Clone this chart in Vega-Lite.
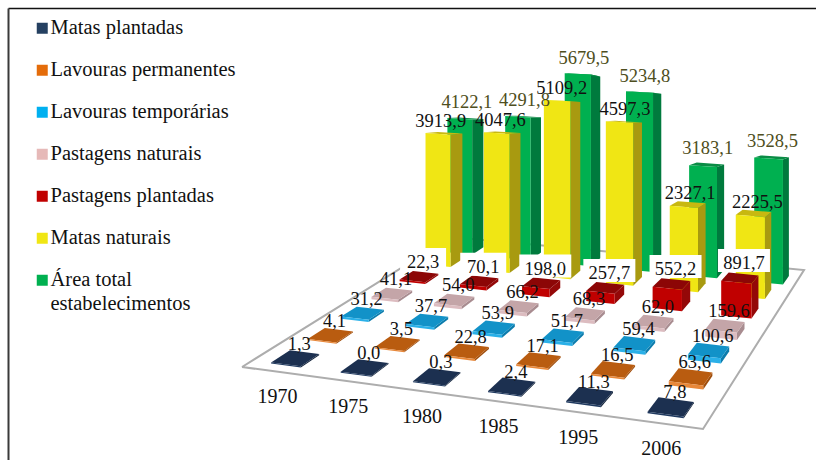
{
  "$schema": "https://vega.github.io/schema/vega-lite/v6.json",
  "width": 808,
  "height": 452,
  "autosize": "none",
  "padding": {"left": 8, "top": 8, "right": 0, "bottom": 0},
  "background": "white",
  "view": {"stroke": null, "fill": "white"},
  "datasets": {
    "areas": [
      {"ano": "1970", "uso": "Área total estabelecimentos", "area": 4122.1},
      {"ano": "1975", "uso": "Área total estabelecimentos", "area": 4291.8},
      {"ano": "1980", "uso": "Área total estabelecimentos", "area": 5679.5},
      {"ano": "1985", "uso": "Área total estabelecimentos", "area": 5234.8},
      {"ano": "1995", "uso": "Área total estabelecimentos", "area": 3183.1},
      {"ano": "2006", "uso": "Área total estabelecimentos", "area": 3528.5},
      {"ano": "1970", "uso": "Matas naturais", "area": 3913.9},
      {"ano": "1975", "uso": "Matas naturais", "area": 4047.6},
      {"ano": "1980", "uso": "Matas naturais", "area": 5109.2},
      {"ano": "1985", "uso": "Matas naturais", "area": 4597.3},
      {"ano": "1995", "uso": "Matas naturais", "area": 2327.1},
      {"ano": "2006", "uso": "Matas naturais", "area": 2225.5},
      {"ano": "1970", "uso": "Pastagens plantadas", "area": 22.3},
      {"ano": "1975", "uso": "Pastagens plantadas", "area": 70.1},
      {"ano": "1980", "uso": "Pastagens plantadas", "area": 198.0},
      {"ano": "1985", "uso": "Pastagens plantadas", "area": 257.7},
      {"ano": "1995", "uso": "Pastagens plantadas", "area": 552.2},
      {"ano": "2006", "uso": "Pastagens plantadas", "area": 891.7},
      {"ano": "1970", "uso": "Pastagens naturais", "area": 41.1},
      {"ano": "1975", "uso": "Pastagens naturais", "area": 54.0},
      {"ano": "1980", "uso": "Pastagens naturais", "area": 66.2},
      {"ano": "1985", "uso": "Pastagens naturais", "area": 68.3},
      {"ano": "1995", "uso": "Pastagens naturais", "area": 62.0},
      {"ano": "2006", "uso": "Pastagens naturais", "area": 159.6},
      {"ano": "1970", "uso": "Lavouras temporárias", "area": 31.2},
      {"ano": "1975", "uso": "Lavouras temporárias", "area": 37.7},
      {"ano": "1980", "uso": "Lavouras temporárias", "area": 53.9},
      {"ano": "1985", "uso": "Lavouras temporárias", "area": 51.7},
      {"ano": "1995", "uso": "Lavouras temporárias", "area": 59.4},
      {"ano": "2006", "uso": "Lavouras temporárias", "area": 100.6},
      {"ano": "1970", "uso": "Lavouras permanentes", "area": 4.1},
      {"ano": "1975", "uso": "Lavouras permanentes", "area": 3.5},
      {"ano": "1980", "uso": "Lavouras permanentes", "area": 22.8},
      {"ano": "1985", "uso": "Lavouras permanentes", "area": 17.1},
      {"ano": "1995", "uso": "Lavouras permanentes", "area": 16.5},
      {"ano": "2006", "uso": "Lavouras permanentes", "area": 63.6},
      {"ano": "1970", "uso": "Matas plantadas", "area": 1.3},
      {"ano": "1975", "uso": "Matas plantadas", "area": 0.0},
      {"ano": "1980", "uso": "Matas plantadas", "area": 0.3},
      {"ano": "1985", "uso": "Matas plantadas", "area": 2.4},
      {"ano": "1995", "uso": "Matas plantadas", "area": 11.3},
      {"ano": "2006", "uso": "Matas plantadas", "area": 7.8}
    ],
    "piso": [
      {"canto": 0, "u": 0, "v": 0},
      {"canto": 1, "u": 1, "v": 0},
      {"canto": 2, "u": 1, "v": 1},
      {"canto": 3, "u": 0, "v": 1},
      {"canto": 4, "u": 0, "v": 0}
    ],
    "anos": [
      {"ano": "1970"}, {"ano": "1975"}, {"ano": "1980"},
      {"ano": "1985"}, {"ano": "1995"}, {"ano": "2006"}
    ]
  },
  "encoding": {
    "x": {"field": "X", "type": "quantitative", "axis": {"orient": "top", "title": null, "labels": false, "ticks": false, "grid": false, "domainColor": "#111111", "domainWidth": 1.6}, "scale": {"domain": [8, 816], "nice": false, "zero": false}},
    "y": {"field": "Y", "type": "quantitative", "axis": {"orient": "left", "title": null, "labels": false, "ticks": false, "grid": false, "domainColor": "#3a3a3a", "domainWidth": 2}, "scale": {"domain": [460, 8], "nice": false, "zero": false}}
  },
  "layer": [
    {
      "data": {"name": "piso"},
      "transform": [
        {"calculate": "-0.11222*datum.u+0.33806*datum.v+1", "as": "w"},
        {"calculate": "(382.1*datum.u+361.5*datum.v+242)/datum.w", "as": "X"},
        {"calculate": "(13.86*datum.u-49.9*datum.v+367)/datum.w", "as": "Y"}
      ],
      "mark": {"type": "line", "fill": "white", "stroke": "#adadad", "strokeWidth": 2},
      "encoding": {"order": {"field": "canto", "type": "ordinal"}}
    },
    {
      "data": {"name": "areas"},
      "transform": [
        {"calculate": "indexof(['1970','1975','1980','1985','1995','2006'],datum.ano)", "as": "j"},
        {"calculate": "indexof(['Matas plantadas','Lavouras permanentes','Lavouras temporárias','Pastagens naturais','Pastagens plantadas','Matas naturais','Área total estabelecimentos'],datum.uso)", "as": "i"},
        {"calculate": "[0,1,2]", "as": "face"},
        {"flatten": ["face"]},
        {"calculate": "[0,1,2,3]", "as": "corner"},
        {"flatten": ["corner"]},
        {"calculate": "[[1,1,1,1],[0,1,1,0],[0,1,1,0]][datum.face][datum.corner]", "as": "cu"},
        {"calculate": "[[0,1,1,0],[0,0,1,1],[0,0,0,0]][datum.face][datum.corner]", "as": "cv"},
        {"calculate": "[[0,0,1,1],[1,1,1,1],[0,0,1,1]][datum.face][datum.corner]", "as": "cz"},
        {"calculate": "(datum.j+0.5)/6+(datum.cu-0.5)*0.072", "as": "U"},
        {"calculate": "(datum.i+0.5)/7+(datum.cv-0.5)*0.072-(datum.i == 6 ? 0.03 : 0)", "as": "V"},
        {"calculate": "datum.cz*(datum.area+25)", "as": "Z"},
        {"calculate": "-0.11222*datum.U+0.33806*datum.V+1", "as": "w"},
        {"calculate": "(382.1*datum.U+361.5*datum.V+242)/datum.w+(datum.i == 6 ? 2.5+6*datum.U : 0)", "as": "X"},
        {"calculate": "(13.86*datum.U-49.9*datum.V+367-0.0417*datum.Z)/datum.w+datum.cv*0.0011*datum.Z", "as": "Y"},
        {"calculate": "(6-datum.i)*10000+datum.j*100+datum.face*10+datum.corner", "as": "ordem"},
        {"calculate": "datum.i+'-'+datum.face", "as": "tom"},
        {"calculate": "datum.i+'-'+datum.j+'-'+datum.face", "as": "poligono"}
      ],
      "mark": {"type": "line", "strokeWidth": 0},
      "encoding": {
        "order": {"field": "ordem", "type": "quantitative"},
        "detail": {"field": "poligono"},
        "fill": {
          "field": "tom",
          "type": "nominal",
          "legend": null,
          "scale": {
            "domain": ["0-0","0-1","0-2","1-0","1-1","1-2","2-0","2-1","2-2","3-0","3-1","3-2","4-0","4-1","4-2","5-0","5-1","5-2","6-0","6-1","6-2"],
            "range": ["#14243c","#1c3050","#203a60","#a04e0c","#b95c10","#e8883a","#0c7cac","#1292c8","#2ab0e8","#a88c90","#c4a5a8","#dcbcc0","#940808","#8c0606","#c00000","#a89a10","#c8b810","#f0e614","#007a3d","#0a8c45","#00b050"]
          }
        }
      }
    },
    {
      "data": {"name": "areas"},
      "transform": [
        {"filter": "datum.uso == 'Pastagens plantadas'"},
        {"calculate": "indexof(['1970','1975','1980','1985','1995','2006'],datum.ano)", "as": "j"},
        {"calculate": "(datum.j+0.5)/6", "as": "U"},
        {"calculate": "4.5/7", "as": "V"},
        {"calculate": "-0.11222*datum.U+0.33806*datum.V+1", "as": "w"},
        {"calculate": "(382.1*datum.U+361.5*datum.V+242)/datum.w+4", "as": "cx"},
        {"calculate": "(13.86*datum.U-49.9*datum.V+367-0.0417*(datum.area+25))/datum.w-14.5", "as": "cy"},
        {"calculate": "replace(format(datum.area,'.1f'),'.',',')", "as": "rotulo"},
        {"calculate": "datum.cx-(11+3*length(datum.rotulo))", "as": "X"},
        {"calculate": "datum.cx+(11+3*length(datum.rotulo))", "as": "X2"},
        {"calculate": "datum.cy-14", "as": "Y"},
        {"calculate": "datum.cy+9", "as": "Y2"}
      ],
      "mark": {"type": "rect", "fill": "white"},
      "encoding": {
        "x2": {"field": "X2"},
        "y2": {"field": "Y2"}
      }
    },
    {
      "data": {"name": "areas"},
      "transform": [
        {"calculate": "indexof(['1970','1975','1980','1985','1995','2006'],datum.ano)", "as": "j"},
        {"calculate": "indexof(['Matas plantadas','Lavouras permanentes','Lavouras temporárias','Pastagens naturais','Pastagens plantadas','Matas naturais','Área total estabelecimentos'],datum.uso)", "as": "i"},
        {"calculate": "(datum.j+0.5)/6", "as": "U"},
        {"calculate": "(datum.i+0.5)/7", "as": "V"},
        {"calculate": "-0.11222*datum.U+0.33806*datum.V+1", "as": "w"},
        {"calculate": "(382.1*datum.U+361.5*datum.V+242)/datum.w+(datum.i == 5 ? 8.5*datum.U-4 : 4)", "as": "X"},
        {"calculate": "(13.86*datum.U-49.9*datum.V+367-0.0417*(datum.area+25))/datum.w-(datum.i == 5 ? 10 : 14.5)", "as": "Y"},
        {"calculate": "replace(format(datum.area,'.1f'),'.',',')", "as": "rotulo"},
        {"filter": "datum.i < 6"}
      ],
      "mark": {"type": "text", "font": "Liberation Serif", "fontSize": 18.5, "color": "#111111", "baseline": "middle", "align": "center"},
      "encoding": {"text": {"field": "rotulo"}}
    },
    {
      "data": {"name": "areas"},
      "transform": [
        {"filter": "datum.uso == 'Área total estabelecimentos'"},
        {"calculate": "indexof(['1970','1975','1980','1985','1995','2006'],datum.ano)", "as": "j"},
        {"calculate": "(datum.j+0.5)/6", "as": "U"},
        {"calculate": "6.5/7", "as": "V"},
        {"calculate": "-0.11222*datum.U+0.33806*datum.V+1", "as": "w"},
        {"calculate": "(382.1*datum.U+361.5*datum.V+242)/datum.w+8*datum.U-1", "as": "X"},
        {"calculate": "(13.86*datum.U-49.9*datum.V+367-0.0417*(datum.area+25))/datum.w-12", "as": "Y"},
        {"calculate": "replace(format(datum.area,'.1f'),'.',',')", "as": "rotulo"}
      ],
      "mark": {"type": "text", "font": "Liberation Serif", "fontSize": 18.5, "color": "#4e4e20", "baseline": "middle", "align": "center"},
      "encoding": {"text": {"field": "rotulo"}}
    },
    {
      "data": {"name": "anos"},
      "transform": [
        {"calculate": "(indexof(['1970','1975','1980','1985','1995','2006'],datum.ano)+0.5)/6", "as": "U"},
        {"calculate": "-0.11222*datum.U+1", "as": "w"},
        {"calculate": "(382.1*datum.U+242)/datum.w+1", "as": "X"},
        {"calculate": "(13.86*datum.U+367)/datum.w+25.5", "as": "Y"}
      ],
      "mark": {"type": "text", "font": "Liberation Serif", "fontSize": 20, "color": "#111111", "baseline": "middle", "align": "center"},
      "encoding": {"text": {"field": "ano"}}
    },
    {
      "data": {"name": "areas"},
      "transform": [
        {"calculate": "-100", "as": "X"},
        {"calculate": "-100", "as": "Y"}
      ],
      "mark": {"type": "point", "shape": "square", "filled": true, "size": 0},
      "encoding": {
        "color": {
          "field": "uso",
          "type": "nominal",
          "scale": {
            "domain": ["Matas plantadas","Lavouras permanentes","Lavouras temporárias","Pastagens naturais","Pastagens plantadas","Matas naturais","Área total estabelecimentos"],
            "range": ["#254061","#e46c0a","#00b0f0","#e6b9b8","#c00000","#f0e614","#00b050"]
          },
          "legend": {
            "title": null,
            "orient": "none",
            "legendX": 24,
            "legendY": 10,
            "symbolType": "square",
            "symbolSize": 121,
            "symbolOpacity": 1,
            "symbolStrokeWidth": 0,
            "labelFont": "Liberation Serif",
            "labelFontSize": 20.5,
            "labelColor": "#111111",
            "labelLimit": 300,
            "labelOffset": -2,
            "rowPadding": 21,
            "labelExpr": "datum.label == 'Área total estabelecimentos' ? ['Área total','estabelecimentos'] : datum.label",
            "encode": {"labels": {"update": {"lineHeight": {"value": 24}}}}
          }
        }
      }
    }
  ]
}
